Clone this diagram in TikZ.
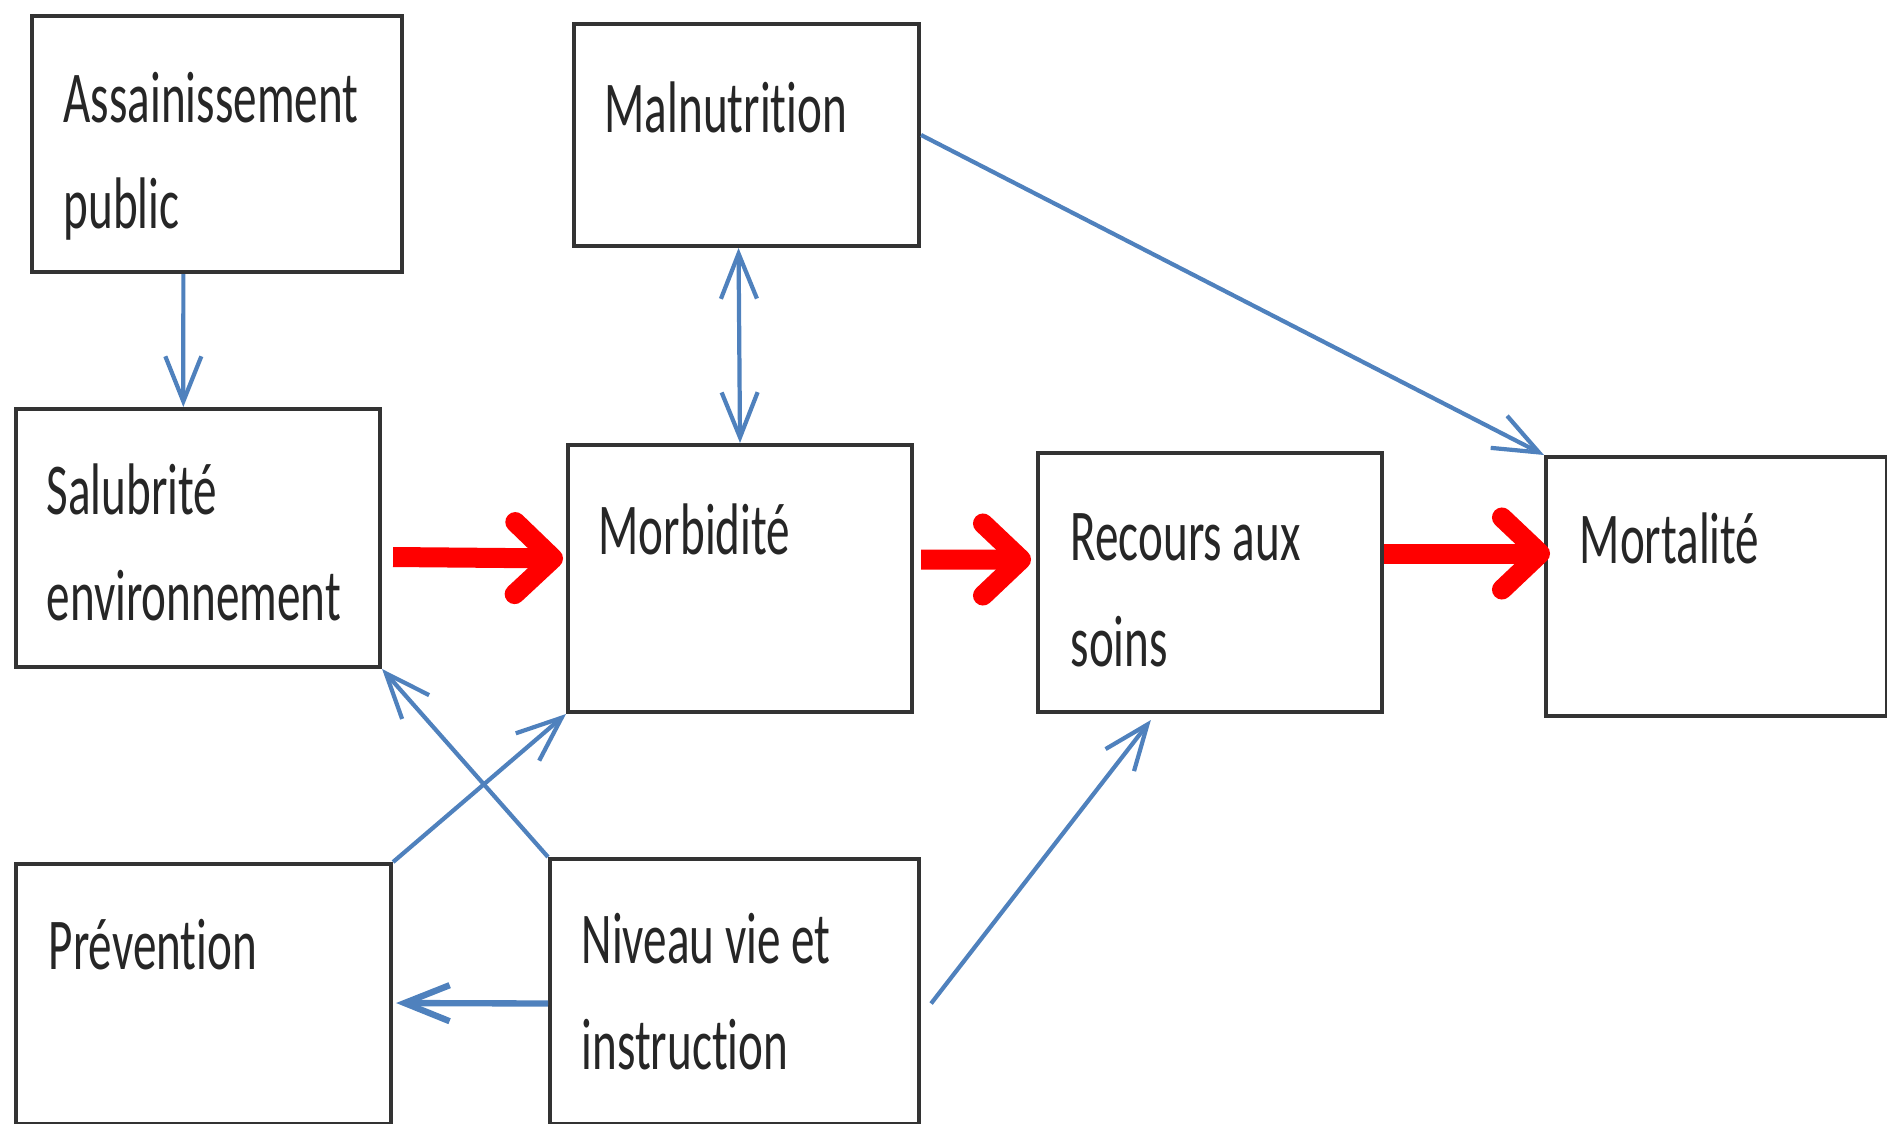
\documentclass[tikz,border=0pt]{standalone}
\usepackage{fontspec}
\setmainfont{Carlito}[Ligatures=CommonOff]
\usetikzlibrary{positioning, calc, arrows.meta}
\definecolor{linkblue}{HTML}{4F81BD}
\definecolor{boxline}{gray}{0.2}
\newcommand{\boxlabel}[1]{\scalebox{1}[1.55]{\begin{tabular}[t]{@{}l@{}}#1\end{tabular}}}

\begin{document}
\begin{tikzpicture}[x=0.01cm, y=-0.01cm,
  box/.style={draw=boxline, line width=1.1pt, anchor=north west, inner sep=0pt},
  txt/.style={anchor=base west, inner sep=0pt, text=black!85, font=\fontsize{13.4}{19.6}\selectfont},
  link/.style={draw=linkblue, line width=1.2pt, -{Straight Barb[length=0.45cm, width=0.36cm]}},
  flow/.style={draw=red, line width=0.2cm, -{Straight Barb[round, length=0.38cm, width=0.72cm]}}]
\useasboundingbox (0,0) rectangle (1887,1124);
\node[box, minimum width=3.70cm, minimum height=2.56cm] (assain) at (30,14) {};
\node[box, minimum width=3.45cm, minimum height=2.22cm] (malnut) at (572,22) {};
\node[box, minimum width=3.64cm, minimum height=2.58cm] (salub) at (14,407) {};
\node[box, minimum width=3.44cm, minimum height=2.67cm] (morb) at (566,443) {};
\node[box, minimum width=3.44cm, minimum height=2.59cm] (recours) at (1036,451) {};
\node[box, minimum width=3.41cm, minimum height=2.59cm] (mortal) at (1544,455) {};
\node[box, minimum width=3.75cm, minimum height=2.60cm] (prev) at (14,862) {};
\node[box, minimum width=3.69cm, minimum height=2.65cm] (niveau) at (548,857) {};
\node[txt] (assain-t) at ($(assain.north west)+(33,108)$) {\boxlabel{Assainissement\\public}};
\node[txt] (malnut-t) at ($(malnut.north west)+(32,110)$) {\boxlabel{Malnutrition}};
\node[txt] (salub-t) at ($(salub.north west)+(32,107)$) {\boxlabel{Salubrité\\environnement}};
\node[txt] (morb-t) at ($(morb.north west)+(32,111)$) {\boxlabel{Morbidité}};
\node[txt] (recours-t) at ($(recours.north west)+(34,109)$) {\boxlabel{Recours aux\\soins}};
\node[txt] (mortal-t) at ($(mortal.north west)+(35,108)$) {\boxlabel{Mortalité}};
\node[txt] (prev-t) at ($(prev.north west)+(34,107)$) {\boxlabel{Prévention}};
\node[txt] (niveau-t) at ($(niveau.north west)+(33,106)$) {\boxlabel{Niveau vie et\\instruction}};
\draw[link] ($(assain.south west)!.41!(assain.south east)$) -- ($(salub.north west)!.46!(salub.north east)$);
\draw[link, {Straight Barb[length=0.45cm, width=0.36cm]}-{Straight Barb[length=0.45cm, width=0.36cm]}] ($(malnut.south)+(-8,0)$) -- (morb.north);
\draw[link] (malnut.east) -- (mortal.north west);
\draw[link] (prev.north east) -- (morb.south west);
\draw[link] (niveau.north west) -- (salub.south east);
\draw[link, line width=1.8pt] ($(niveau.west)+(0,12)$) -- ($(prev.east)+(3,9)$);
\draw[link] ($(niveau.east)+(10,12)$) -- ($(recours.south west)!.33!(recours.south east)+(0,6)$);
\draw[flow] ($(salub.east)+(11,19)$) -- ($(morb.west)+(-3,-20)$);
\draw[flow] ($(morb.east)+(7,-19)$) -- ($(recours.west)+(-5,-23)$);
\draw[flow] ($(recours.east)+(0,-29)$) -- ($(mortal.west)+(6,-33)$);
\end{tikzpicture}
\end{document}
